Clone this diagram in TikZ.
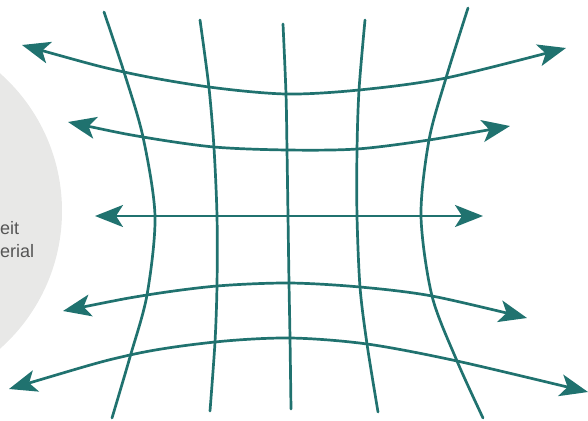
\documentclass[tikz,border=0pt]{standalone}
\usepackage{fontspec}
\setmainfont{Liberation Sans}
\usepackage{xcolor}
\usetikzlibrary{arrows.meta}
\definecolor{gridteal}{HTML}{20726F}
\definecolor{softgray}{HTML}{E8E8E7}
\definecolor{textgray}{HTML}{555555}

\begin{document}
\begin{tikzpicture}[x=1pt,y=-1pt,
  line/.style={gridteal,line width=2.7pt,line cap=round},
  arr/.style={line,{Stealth[length=28pt,width=22pt,inset=7pt]}-{Stealth[length=28pt,width=22pt,inset=7pt]}},
  lbl/.style={font=\fontsize{18}{23}\selectfont,text=textgray,inner sep=0pt,anchor=base west}
]
\useasboundingbox (0,0) rectangle (588,420);
\begin{scope}
\clip (0,0) rectangle (588,420);
\fill[softgray] (-122,211) circle[radius=184pt];
\end{scope}
\node[lbl] (lbla) at (0,234) {eit};
\node[lbl] (lblb) at (0,257) {erial};
% bent grid lines
\draw[line] plot[smooth] coordinates {(104,12) (124,72) (143,137) (155,216) (147,295) (130,357) (112,418)};
\draw[line] plot[smooth] coordinates {(200,20) (209,88) (214,148) (217,216) (217,285) (215,342) (210,411)};
\draw[line] plot[smooth] coordinates {(283,24) (286,94) (287,150) (288,216) (289,283) (290,338) (291,409)};
\draw[line] plot[smooth] coordinates {(365,20) (359,90) (357,150) (357,216) (360,287) (367,344) (378,412)};
\draw[line] plot[smooth] coordinates {(468,8) (446,78) (429,140) (421,216) (432,296) (457,361) (483,418)};
% arrows
\draw[arr] plot[smooth] coordinates {(22,45) (124,72) (209,87) (286,94) (359,90) (446,78) (566,48)};
\draw[arr] plot[smooth] coordinates {(68,122) (143,137) (214,147) (287,150) (357,149) (429,140) (510,126)};
\draw[arr] (95,216) -- (483,216);
\draw[arr] plot[smooth] coordinates {(63,311) (147,295) (217,286) (289,283) (360,287) (432,296) (527,318)};
\draw[arr] plot[smooth] coordinates {(9,389) (130,355) (215,342) (290,338) (367,344) (457,361) (588,392)};
\end{tikzpicture}
\end{document}
